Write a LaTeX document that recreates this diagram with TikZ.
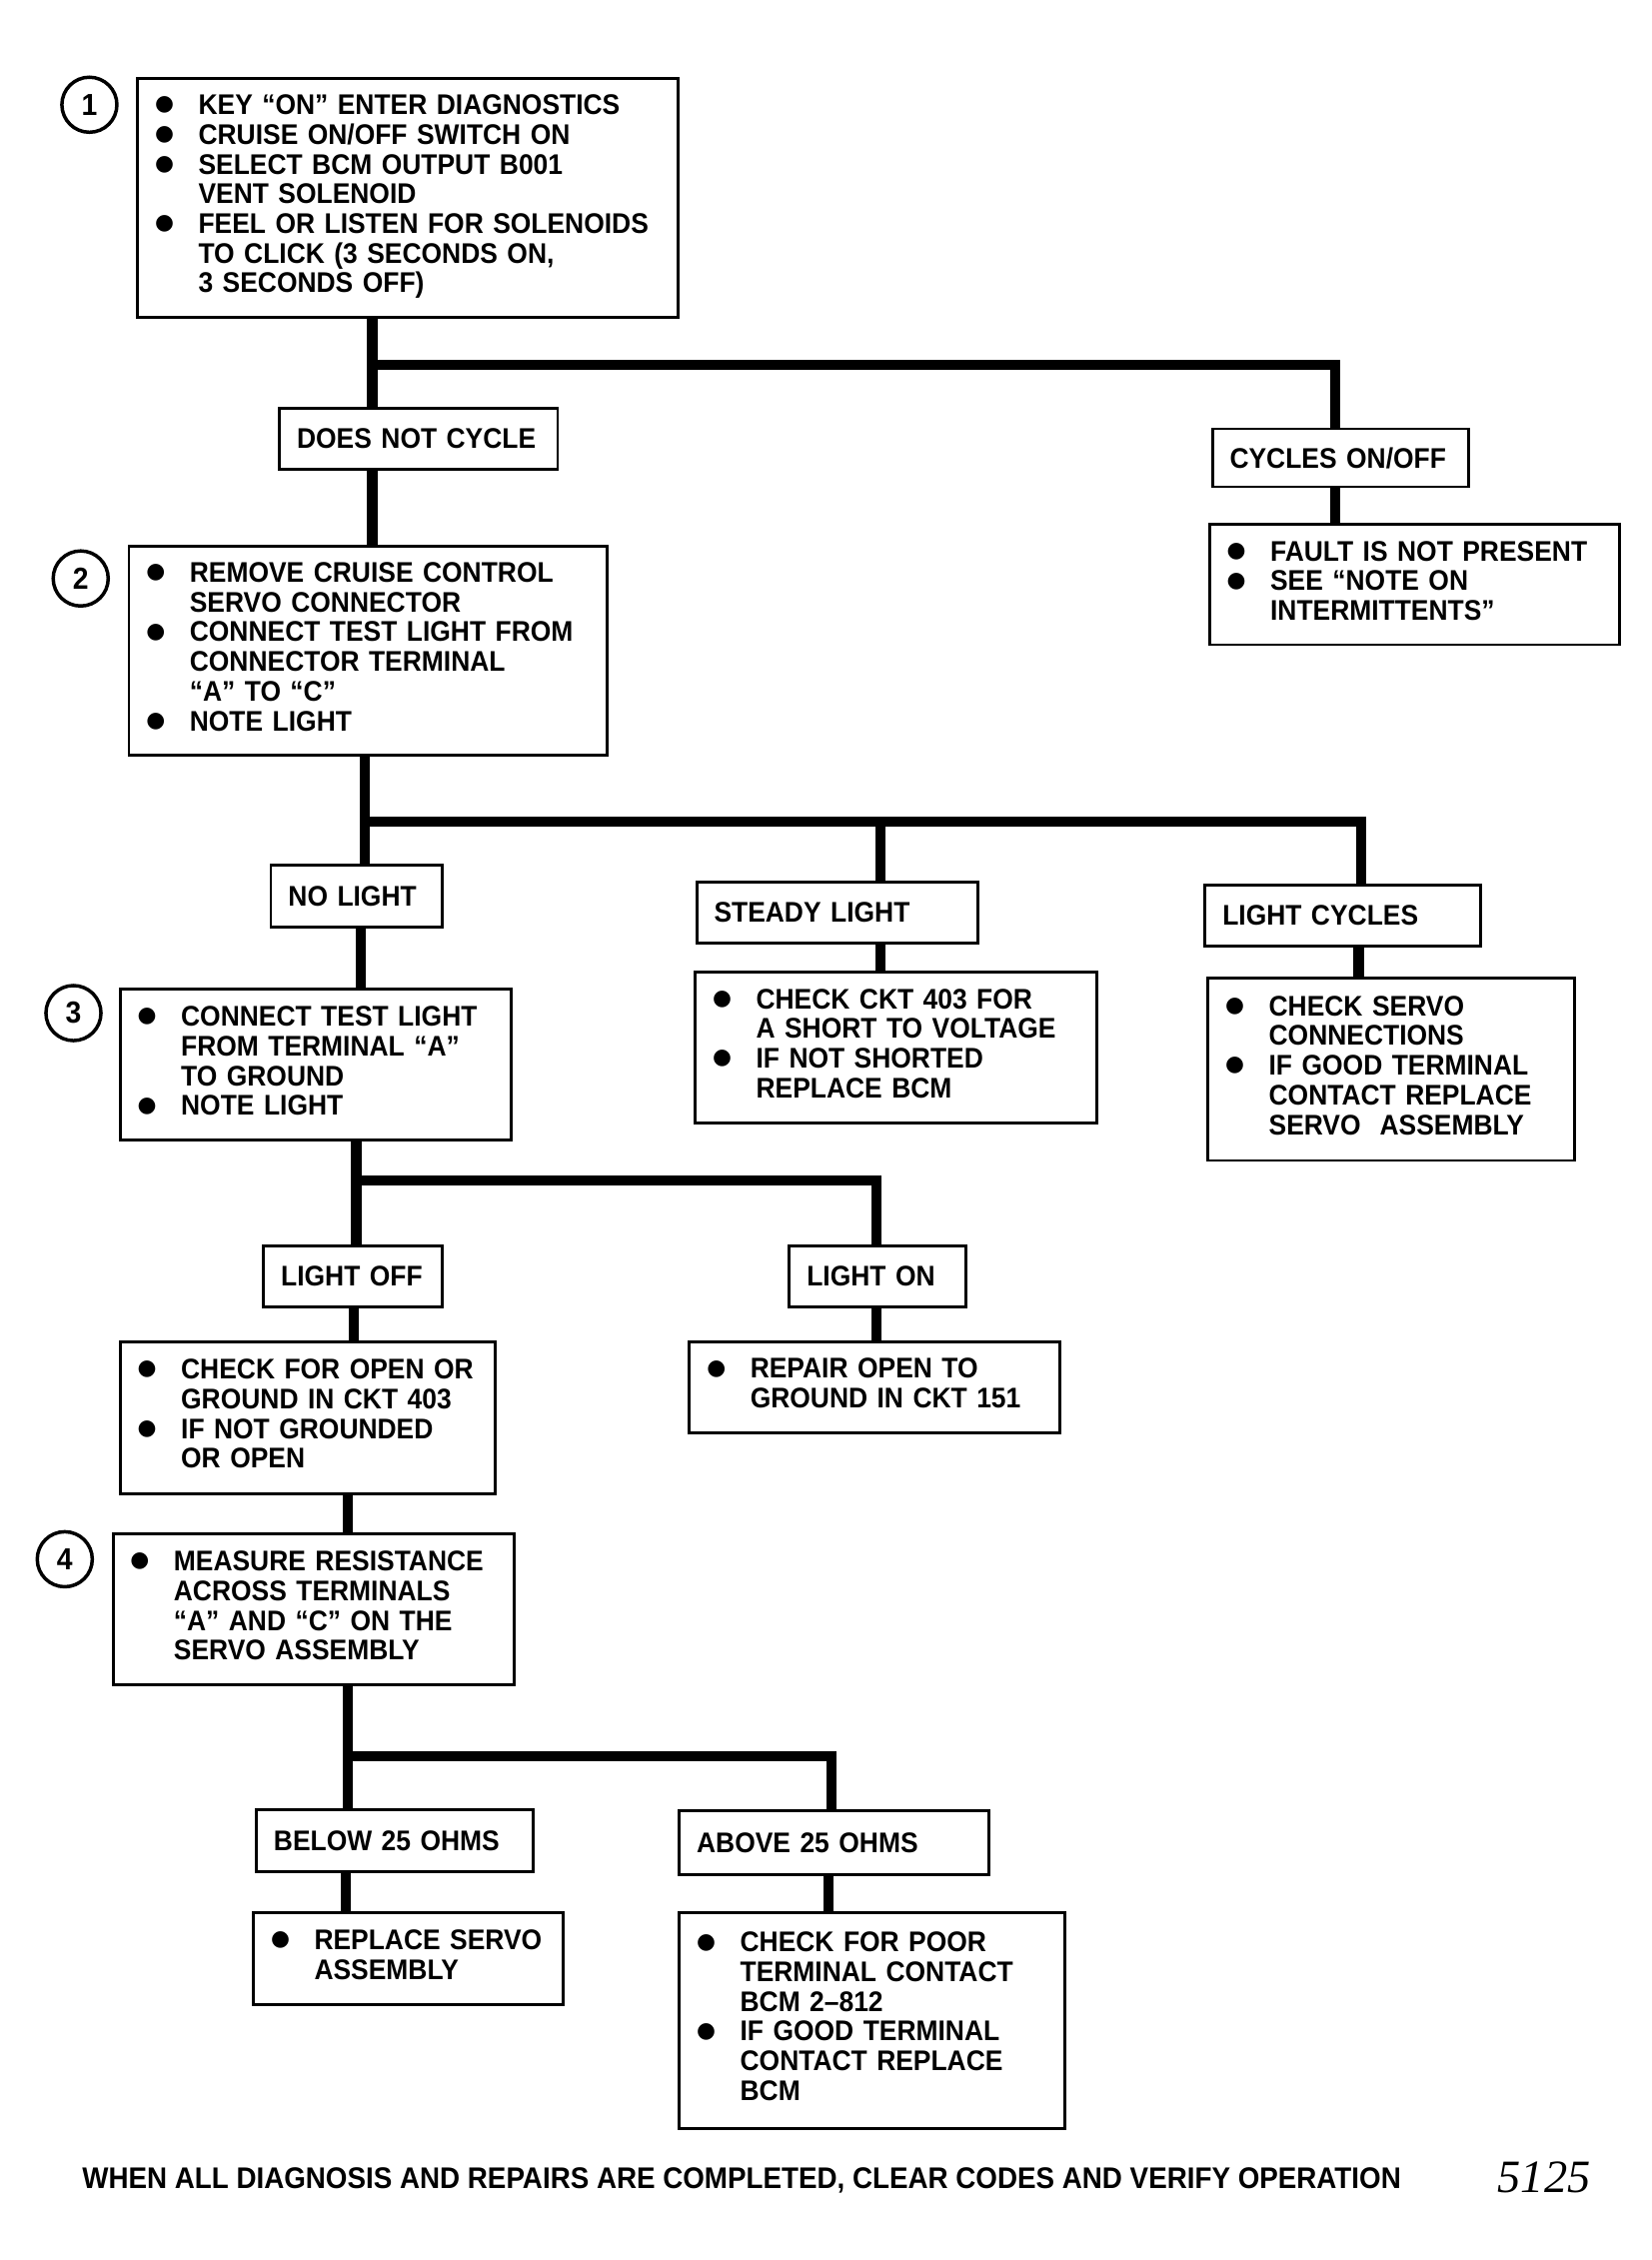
\documentclass[tikz,border=0pt]{standalone}
\usepackage{fontspec}
\setmainfont{Liberation Sans}[FakeStretch=0.93]
\newfontfamily\pagefont{Liberation Serif}
\newfontfamily\dotfont{DejaVu Sans}
\usetikzlibrary{positioning}
\tikzset{
  stepbox/.style={draw, rectangle, line width=1pt, inner xsep=6pt, inner ysep=2pt, align=left, font=\bfseries\fontsize{9.8}{10.25}\selectfont},
  stepnum/.style={draw, circle, line width=1.2pt, minimum size=19pt, inner sep=0pt, font=\bfseries\fontsize{10.5}{12}\selectfont},
  trunk/.style={line width=3.5pt},
  footnote/.style={inner sep=0pt, font=\bfseries\fontsize{10.3}{12}\selectfont}
}
\newcommand{\bul}{\raisebox{1.3pt}{\dotfont\fontsize{7.5}{10}\selectfont ●}}
\newcommand{\blist}[1]{\begin{tabular}{@{}p{15pt}@{}l@{}}#1\end{tabular}}

\begin{document}
\begin{tikzpicture}[x=0.5pt, y=-0.5pt]
\useasboundingbox (0,0) rectangle (1140,1560);

% Steps
\node[stepbox, text width=174.5pt, minimum height=82.5pt] (b1) at (281.5,136.5) {\blist{
  \bul & KEY “ON” ENTER DIAGNOSTICS\\
  \bul & CRUISE ON/OFF SWITCH ON\\
  \bul & SELECT BCM OUTPUT B001\\
       & VENT SOLENOID\\
  \bul & FEEL OR LISTEN FOR SOLENOIDS\\
       & TO CLICK (3 SECONDS ON,\\
       & 3 SECONDS OFF)}};
\node[stepbox, text width=84pt, minimum height=21pt] (dnc) at (289,303) {\mbox{DOES NOT CYCLE}};
\node[stepbox, text width=76.5pt, minimum height=20pt] (cyc) at (925.5,316) {\mbox{CYCLES ON/OFF}};
\node[stepbox, text width=129.5pt, minimum height=41.5pt] (fault) at (976.5,403.5) {\blist{
  \bul & FAULT IS NOT PRESENT\\
  \bul & SEE “NOTE ON\\
       & INTERMITTENTS”}};
\node[stepbox, text width=153pt, minimum height=72pt] (b2) at (254,449) {\blist{
  \bul & REMOVE CRUISE CONTROL\\
       & SERVO CONNECTOR\\
  \bul & CONNECT TEST LIGHT FROM\\
       & CONNECTOR TERMINAL\\
       & “A” TO “C”\\
  \bul & NOTE LIGHT}};
\node[stepbox, text width=47pt, minimum height=21.5pt] (nol) at (246,618.5) {\mbox{NO LIGHT}};
\node[stepbox, text width=85pt, minimum height=21pt] (stl) at (578,630) {\mbox{STEADY LIGHT}};
\node[stepbox, text width=83pt, minimum height=21pt] (lcy) at (927,632) {\mbox{LIGHT CYCLES}};
\node[stepbox, text width=123pt, minimum height=52pt] (b3) at (218,735) {\blist{
  \bul & CONNECT TEST LIGHT\\
       & FROM TERMINAL “A”\\
       & TO GROUND\\
  \bul & NOTE LIGHT}};
\node[stepbox, text width=126.5pt, minimum height=52pt] (stb) at (618.5,723) {\blist{
  \bul & CHECK CKT 403 FOR\\
       & A SHORT TO VOLTAGE\\
  \bul & IF NOT SHORTED\\
       & REPLACE BCM}};
\node[stepbox, text width=114.5pt, minimum height=63pt] (lcb) at (960.5,738) {\blist{
  \bul & CHECK SERVO\\
       & CONNECTIONS\\
  \bul & IF GOOD TERMINAL\\
       & CONTACT REPLACE\\
       & SERVO\ \ ASSEMBLY}};
\node[stepbox, text width=49.5pt, minimum height=21pt] (loff) at (243.5,881) {\mbox{LIGHT OFF}};
\node[stepbox, text width=49pt, minimum height=21pt] (lon) at (606,881) {\mbox{LIGHT ON}};
\node[stepbox, text width=117.5pt, minimum height=52.5pt] (cfo) at (212.5,978.5) {\blist{
  \bul & CHECK FOR OPEN OR\\
       & GROUND IN CKT 403\\
  \bul & IF NOT GROUNDED\\
       & OR OPEN}};
\node[stepbox, text width=116pt, minimum height=31.5pt] (rep) at (604,957.5) {\blist{
  \bul & REPAIR OPEN TO\\
       & GROUND IN CKT 151}};
\node[stepbox, text width=126.5pt, minimum height=52pt] (b4) at (216.5,1111) {\blist{
  \bul & MEASURE RESISTANCE\\
       & ACROSS TERMINALS\\
       & “A” AND “C” ON THE\\
       & SERVO ASSEMBLY}};
\node[stepbox, text width=83.5pt, minimum height=21.5pt] (bel) at (272.5,1270.5) {\mbox{BELOW 25 OHMS}};
\node[stepbox, text width=95pt, minimum height=22pt] (abv) at (576,1272) {\mbox{ABOVE 25 OHMS}};
\node[stepbox, text width=95pt, minimum height=32pt] (rsv) at (282,1352) {\blist{
  \bul & REPLACE SERVO\\
       & ASSEMBLY}};
\node[stepbox, text width=121pt, minimum height=74.5pt] (cfp) at (602,1394.5) {\blist{
  \bul & CHECK FOR POOR\\
       & TERMINAL CONTACT\\
       & BCM 2--812\\
  \bul & IF GOOD TERMINAL\\
       & CONTACT REPLACE\\
       & BCM}};

% Step numbers
\node[stepnum, below left=2.5pt and 9pt of b1.north west] (n1) {1};
\node[stepnum, below left=4.5pt and 9pt of b2.north west] (n2) {2};
\node[stepnum, below left=1.5pt and 8.5pt of b3.north west] (n3) {3};
\node[stepnum, below left=2pt and 9pt of b4.north west] (n4) {4};

% Footer
\node[footnote] (note) at (512,1505) {WHEN ALL DIAGNOSIS AND REPAIRS ARE COMPLETED, CLEAR CODES AND VERIFY OPERATION};
\node[inner sep=0pt, font=\pagefont\itshape\fontsize{16}{18}\selectfont] (fig) at (1066,1503) {5125};

% Connectors
\coordinate (j1) at (257,252);
\draw[trunk] (b1.south -| j1) -- (j1) -| (cyc.north -| 922,0);
\draw[trunk] (j1) -- (dnc.north -| j1);
\draw[trunk] (dnc.south -| j1) -- (b2.north -| j1);
\draw[trunk] (cyc.south -| 922,0) -- (fault.north -| 922,0);

\coordinate (j2) at (252,567);
\draw[trunk] (b2.south -| j2) -- (j2) -| (lcy.north -| 940,0);
\draw[trunk] (j2) -- (nol.north -| j2);
\draw[trunk] (j2 -| 608,0) -- (stl.north -| 608,0);
\draw[trunk] (nol.south -| 249,0) -- (b3.north -| 249,0);
\draw[trunk] (stl.south -| 608,0) -- (stb.north -| 608,0);
\draw[trunk] (lcy.south -| 938,0) -- (lcb.north -| 938,0);

\coordinate (j3) at (246,815);
\draw[trunk] (b3.south -| j3) -- (j3) -| (lon.north -| 605,0);
\draw[trunk] (j3) -- (loff.north -| j3);
\draw[trunk] (loff.south -| 244,0) -- (cfo.north -| 244,0);
\draw[trunk] (lon.south -| 605,0) -- (rep.north -| 605,0);
\draw[trunk] (cfo.south -| 240,0) -- (b4.north -| 240,0);

\coordinate (j4) at (240,1212);
\draw[trunk] (b4.south -| j4) -- (j4) -| (abv.north -| 574,0);
\draw[trunk] (j4) -- (bel.north -| j4);
\draw[trunk] (bel.south -| 239,0) -- (rsv.north -| 239,0);
\draw[trunk] (abv.south -| 572,0) -- (cfp.north -| 572,0);

\end{tikzpicture}
\end{document}
